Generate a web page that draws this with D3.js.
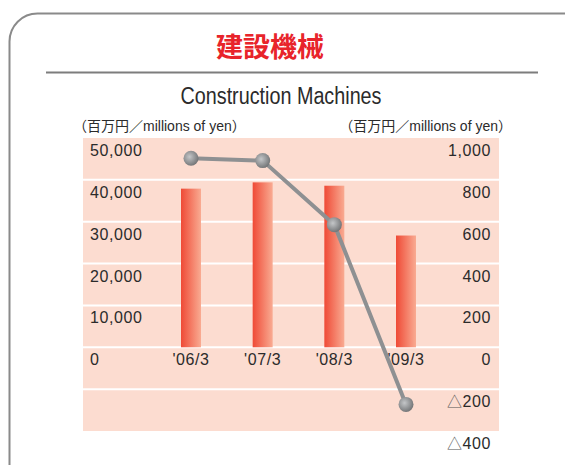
<!DOCTYPE html>
<html>
<head>
<meta charset="utf-8">
<script src="https://cdn.jsdelivr.net/npm/d3@7"></script>
<style>
  body { margin: 0; background: #fff; }
  svg { display: block; font-family: "Liberation Sans", Arial, sans-serif; }
</style>
</head>
<body>
<div id="chart-area"></div>
<script>
var categories = ["'06/3", "'07/3", "'08/3", "'09/3"];
var salesValues = [37900, 39400, 38600, 26700];   // bars, left axis
var profitValues = [903, 892, 586, -273];          // line, right axis
var leftTicks = [0, 10000, 20000, 30000, 40000, 50000];
var rightTicks = [-400, -200, 0, 200, 400, 600, 800, 1000];

var W = 565, H = 465;
var plot = { left: 83, right: 499, top: 138, bottom: 431 };

var svg = d3
  .select("#chart-area")
  .append("svg")
  .attr("width", W)
  .attr("height", H);

var defs = svg.append("defs");
var barGrad = defs.append("linearGradient").attr("id", "barGrad").attr("x1", "0").attr("x2", "1");
barGrad.append("stop").attr("offset", "0").attr("stop-color", "#ef4a36");
barGrad.append("stop").attr("offset", "1").attr("stop-color", "#f9ab92");

var dotGrad = defs.append("radialGradient").attr("id", "dotGrad")
  .attr("cx", "0.4").attr("cy", "0.4").attr("r", "0.65");
dotGrad.append("stop").attr("offset", "0").attr("stop-color", "#c4c6c8");
dotGrad.append("stop").attr("offset", "1").attr("stop-color", "#6f7173");

// frame
svg.append("rect")
  .attr("x", 9.5).attr("y", 13.5)
  .attr("width", 600).attr("height", 500)
  .attr("rx", 28).attr("ry", 28)
  .attr("fill", "none")
  .attr("stroke", "#8a8a8a")
  .attr("stroke-width", 2);

// title
svg.append("text")
  .attr("x", 270).attr("y", 57)
  .attr("text-anchor", "middle")
  .attr("font-family", "'Noto Sans CJK JP', sans-serif")
  .attr("font-weight", "bold")
  .attr("font-size", "27px")
  .attr("fill", "#e8242b")
  .text("建設機械");

svg.append("line")
  .attr("x1", 46).attr("x2", 538)
  .attr("y1", 72.5).attr("y2", 72.5)
  .attr("stroke", "#7d7d7d")
  .attr("stroke-width", 2);

svg.append("text")
  .attr("x", 281).attr("y", 104)
  .attr("text-anchor", "middle")
  .attr("font-family", "'Liberation Sans Narrow', 'Liberation Sans', sans-serif")
  .attr("font-size", "23px")
  .attr("fill", "#2b2b2b")
  .attr("textLength", 201)
  .attr("lengthAdjust", "spacingAndGlyphs")
  .text("Construction Machines");

// unit labels
function unitLabel(xPos, anchor) {
  var t = svg.append("text")
    .attr("x", xPos).attr("y", 131)
    .attr("text-anchor", anchor)
    .attr("font-size", "14px").attr("fill", "#2b2b2b");
  t.append("tspan").attr("font-family", "'Noto Sans CJK JP', sans-serif").text("（百万円／");
  t.append("tspan").text("millions of yen");
  t.append("tspan").attr("font-family", "'Noto Sans CJK JP', sans-serif").text("）");
}
unitLabel(73, "start");
unitLabel(512, "end");

// scales
var yLeft = d3.scaleLinear().domain([-20000, 50000]).range([plot.bottom, plot.top]);
var yRight = d3.scaleLinear().domain([-400, 1000]).range([plot.bottom, plot.top]);
var x = d3.scalePoint().domain(categories).range([191, 406]);

// background band + white grid lines
svg.append("rect")
  .attr("x", plot.left).attr("y", plot.top)
  .attr("width", plot.right - plot.left)
  .attr("height", plot.bottom - plot.top)
  .attr("fill", "#fcdcd0");

svg.append("g")
  .selectAll("line")
  .data(rightTicks.filter(function (d) { return d > -400 && d < 1000; }))
  .join("line")
  .attr("x1", plot.left).attr("x2", plot.right)
  .attr("y1", function (d) { return yRight(d); })
  .attr("y2", function (d) { return yRight(d); })
  .attr("stroke", "#fff")
  .attr("stroke-width", 2);

var fmt = d3.format(",");

// left axis labels
svg.append("g")
  .selectAll("text")
  .data(leftTicks)
  .join("text")
  .attr("x", 90)
  .attr("y", function (d) { return yLeft(d) + 18; })
  .attr("font-size", "16px")
  .attr("letter-spacing", "0.6px")
  .attr("fill", "#2b2b2b")
  .text(function (d) { return fmt(d); });

// right axis labels
var rt = svg.append("g")
  .selectAll("text")
  .data(rightTicks)
  .join("text")
  .attr("x", 491)
  .attr("y", function (d) { return yRight(d) + 18; })
  .attr("text-anchor", "end")
  .attr("font-size", "16px")
  .attr("letter-spacing", "0.6px")
  .attr("fill", "#2b2b2b");
rt.filter(function (d) { return d < 0; })
  .append("tspan")
  .attr("font-family", "'Noto Sans CJK JP', sans-serif")
  .attr("font-size", "15px")
  .attr("fill", "#555")
  .text("△");
rt.append("tspan")
  .text(function (d) { return fmt(Math.abs(d)); });

// bars
svg.append("g")
  .selectAll("rect")
  .data(salesValues)
  .join("rect")
  .attr("x", function (d, i) { return x(categories[i]) - 10; })
  .attr("width", 20)
  .attr("y", function (d) { return yLeft(d); })
  .attr("height", function (d) { return yLeft(0) - yLeft(d); })
  .attr("fill", "url(#barGrad)");

// category labels
svg.append("g")
  .selectAll("text")
  .data(categories)
  .join("text")
  .attr("x", function (d) { return x(d); })
  .attr("y", yLeft(0) + 18)
  .attr("text-anchor", "middle")
  .attr("font-size", "16px")
  .attr("letter-spacing", "0.6px")
  .attr("fill", "#2b2b2b")
  .text(function (d) { return d; });

// line
svg.append("path")
  .datum(profitValues)
  .attr("fill", "none")
  .attr("stroke", "#8e9092")
  .attr("stroke-width", 4)
  .attr("d", d3.line()
    .x(function (d, i) { return x(categories[i]); })
    .y(function (d) { return yRight(d); }));

svg.append("g")
  .selectAll("circle")
  .data(profitValues)
  .join("circle")
  .attr("cx", function (d, i) { return x(categories[i]); })
  .attr("cy", function (d) { return yRight(d); })
  .attr("r", 7.5)
  .attr("fill", "url(#dotGrad)");
</script>
</body>
</html>
